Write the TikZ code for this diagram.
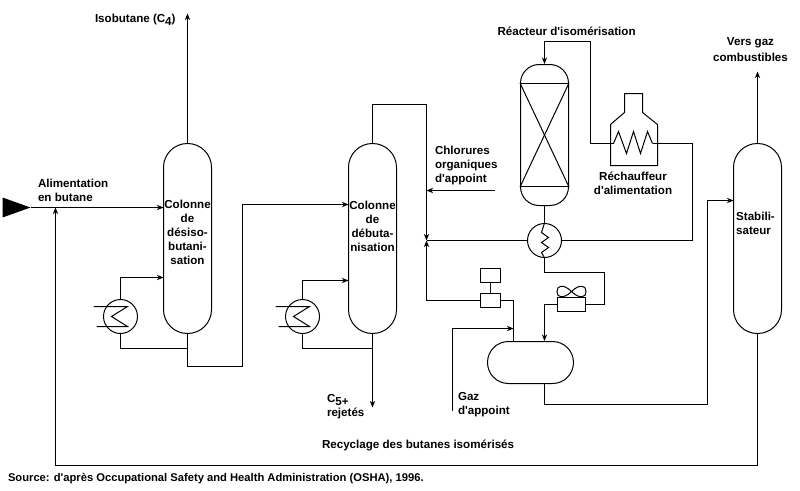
\documentclass[tikz,border=0pt]{standalone}
\usepackage{fontspec}
\newfontfamily\lblfont{Liberation Sans}
\usetikzlibrary{arrows.meta}
\begin{document}
\begin{tikzpicture}[x=0.75pt,y=-0.75pt,>={Stealth[length=5pt,width=4pt]},line width=0.75pt]
	\tikzstyle{column}=[draw,rounded corners=17.9pt,minimum width=36pt,minimum height=142.5pt,inner sep=0pt]
	\tikzstyle{reactor}=[draw,rounded corners=14pt,minimum width=36pt,minimum height=105.75pt,inner sep=0pt]
	\tikzstyle{drum}=[draw,rounded corners=15.7pt,minimum width=64.5pt,minimum height=31.5pt,inner sep=0pt]
	\tikzstyle{bed}=[draw,minimum width=36pt,minimum height=77.25pt,inner sep=0pt]
	\tikzstyle{exch}=[circle,draw,minimum size=25.5pt,inner sep=0pt]
	\tikzstyle{valve}=[draw,minimum width=15pt,minimum height=10.5pt,inner sep=0pt]
	\tikzstyle{cooler}=[draw,minimum width=21pt,minimum height=10.5pt,inner sep=0pt]
	\tikzstyle{label}=[font=\lblfont\bfseries\fontsize{8.7}{10.5}\selectfont,inner sep=0pt,align=center]
	\tikzstyle{edge}=[draw]
	\useasboundingbox (-0.5,-0.5) rectangle (799.5,489.5);

	% vessels
	\node [column] (col1) at (187,238) {};
	\node [column] (col2) at (372,238) {};
	\node [column] (stab) at (757,238) {};
	\node [reactor] (reac) at (544,134.5) {};
	\node [bed] (bed) at (544,134.5) {};
	\node [drum] (tank) at (530,362) {};
	\node [exch] (reb1) at (120,316) {};
	\node [exch] (reb2) at (302,316) {};
	\node [exch] (hx) at (544,240) {};
	\node [valve] (ctrl) at (490,275) {};
	\node [valve] (vlv) at (490,300) {};
	\node [cooler] (cool) at (571,304) {};

	% free ends and bends
	\coordinate (feed) at (30,207);
	\coordinate (c1in) at (163,207);
	\coordinate (c1ret) at (163,277);
	\coordinate (c1up) at (187,13);
	\coordinate (j1) at (187,348);
	\coordinate (t2) at (242,366);
	\coordinate (c2in) at (348,204);
	\coordinate (c2ret) at (348,280);
	\coordinate (j2) at (372,348);
	\coordinate (c2out) at (372,407);
	\coordinate (t3) at (426,104);
	\coordinate (m1) at (426,240);
	\coordinate (m2) at (426,190);
	\coordinate (chl) at (494,190);
	\coordinate (f1) at (613,143);
	\coordinate (f2) at (652,143);
	\coordinate (t4) at (590,41);
	\coordinate (t5) at (692,143);
	\coordinate (t6) at (604,272);
	\coordinate (p1) at (513,300);
	\coordinate (p2) at (513,328);
	\coordinate (gaz) at (452,410);
	\coordinate (t7) at (544,304);
	\coordinate (t8) at (707,404);
	\coordinate (s1) at (733,200);
	\coordinate (s2) at (757,71);
	\coordinate (t9) at (55,465);
	\coordinate (r1) at (55,207);

	% shapes drawn directly
	\fill (feed) -- (2,197) -- (2,217) -- cycle;
	\draw (bed.north west) -- (bed.south east);
	\draw (bed.north east) -- (bed.south west);
	\draw (610,165) -- (610,124) -- (624,112) -- (624,93) -- (642,93) -- (642,112) -- (657,124) -- (657,165) -- cycle;
	\draw (f1) -- (618,131) -- (626,153) -- (633,131) -- (640,153) -- (647,131) -- (f2);
	\draw (hx.north) -- (541,232) -- (548,237) -- (541,242) -- (548,247) -- (541,252) -- (hx.south);
	\foreach \reb in {reb1,reb2}
		\draw ([shift={(-27,-10)}]\reb.center) -- ++(34,0) -- ++(-16,10) -- ++(16,10) -- ++(-31,0);
	\draw (571,291) .. controls (563,283) and (556,285) .. (556.5,291) .. controls (556,297) and (563,299) .. (571,291);
	\draw (571,291) .. controls (579,283) and (586,285) .. (585.5,291) .. controls (586,297) and (579,299) .. (571,291);

	% process lines
	\path[edge,->] (feed) -- (c1in);
	\path[edge,->] (col1.north) -- (c1up);
	\path[edge,->] (reb1.north) |- (c1ret);
	\path[edge] (reb1.south) |- (j1);
	\path[edge,->] (col1.south) |- (t2) |- (c2in);
	\path[edge,->] (reb2.north) |- (c2ret);
	\path[edge] (reb2.south) |- (j2);
	\path[edge,->] (col2.south) -- (c2out);
	\path[edge,->] (col2.north) |- (t3) -- (m1);
	\path[edge,->] (chl) -- (m2);
	\path[edge] (hx.west) -- (m1);
	\path[edge,->] (vlv.west) -| (m1);
	\path[edge] (hx.east) -| (t5) -- (f2);
	\path[edge,->] (f1) -| (t4) -| (reac.north);
	\path[edge] (reac.south) -- (hx.north);
	\path[edge] (hx.south) |- (t6) |- (cool.east);
	\path[edge,->] (cool.west) -| (tank.north -| t7);
	\path[edge] (ctrl.south) -- (vlv.north);
	\path[edge] (vlv.east) -| (tank.north -| p1);
	\path[edge,->] (gaz) |- (p2);
	\path[edge,->] (tank.south -| t7) |- (t8) |- (s1);
	\path[edge,->] (stab.north) -- (s2);
	\path[edge,->] (stab.south) |- (t9) -- (r1);

	% labels
	\node [label,anchor=west] (lbiso) at (94,19) {Isobutane (C\raisebox{-2pt}{4})};
	\node [label,anchor=west,align=left] (lbfeed) at (37,189.5) {Alimentation\\en butane};
	\node [label] (lbc1) at (187,232) {Colonne\\de\\désiso-\\butani-\\sation};
	\node [label] (lbc2) at (372,226) {Colonne\\de\\débuta-\\nisation};
	\node [label,align=left] (lbst) at (755,223) {Stabili-\\sateur};
	\node [label,anchor=west] (lbreac) at (496.5,30.5) {Réacteur d'isomérisation};
	\node [label,anchor=west,align=left] (lbchl) at (434,165) {Chlorures\\organiques\\d'appoint};
	\node [label] (lbreb) at (632.5,183) {Réchauffeur\\d'alimentation};
	\node [label,font=\lblfont\bfseries\fontsize{8.7}{12}\selectfont] (lbvers) at (750,49) {Vers gaz\\combustibles};
	\node [label,anchor=west,align=left] (lbc5) at (326,406.5) {C\raisebox{-2pt}{5+}\\rejetés};
	\node [label,anchor=west,align=left] (lbgaz) at (457,404.5) {Gaz\\d'appoint};
	\node [label,anchor=west] (lbrec) at (321,445) {Recyclage des butanes isomérisés};
	\node [label,anchor=west,font=\lblfont\bfseries\fontsize{8.4}{10.5}\selectfont] (lbsrc) at (7,478) {Source: d'après Occupational Safety and Health Administration (OSHA), 1996.};
\end{tikzpicture}
\end{document}
